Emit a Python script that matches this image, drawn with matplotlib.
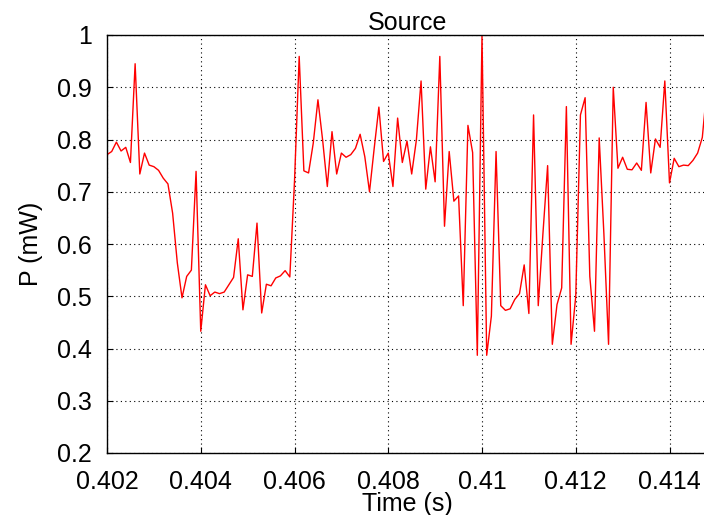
import matplotlib
matplotlib.use("Agg")
import matplotlib.pyplot as plt
import numpy as np

# sampled source power, one sample every 0.1 ms starting at 0.402 s
t_start = 0.402
t_step = 0.0001
power_mw = [
    0.771, 0.777, 0.795, 0.778, 0.785, 0.756, 0.945, 0.734, 0.774, 0.751,
    0.748, 0.741, 0.726, 0.715, 0.659, 0.564, 0.497, 0.538, 0.550, 0.739,
    0.433, 0.522, 0.501, 0.508, 0.505, 0.508, 0.522, 0.536, 0.610, 0.474,
    0.541, 0.538, 0.640, 0.468, 0.523, 0.520, 0.535, 0.539, 0.549, 0.537,
    0.720, 0.959, 0.740, 0.736, 0.793, 0.876, 0.799, 0.710, 0.815, 0.734,
    0.774, 0.766, 0.771, 0.783, 0.810, 0.767, 0.700, 0.783, 0.862, 0.758,
    0.774, 0.710, 0.841, 0.756, 0.797, 0.734, 0.799, 0.912, 0.705, 0.786,
    0.719, 0.959, 0.634, 0.777, 0.682, 0.692, 0.482, 0.827, 0.775, 0.387,
    1.000, 0.387, 0.462, 0.777, 0.482, 0.473, 0.476, 0.494, 0.505, 0.560,
    0.467, 0.847, 0.482, 0.620, 0.750, 0.408, 0.484, 0.516, 0.863, 0.408,
    0.500, 0.847, 0.880, 0.538, 0.433, 0.803, 0.620, 0.408, 0.900, 0.745,
    0.766, 0.743, 0.742, 0.755, 0.741, 0.871, 0.736, 0.801, 0.785, 0.912,
    0.717, 0.764, 0.748, 0.751, 0.750, 0.760, 0.774, 0.804, 0.900,
]
time_s = t_start + t_step * np.arange(len(power_mw))

x_ticks = [0.402, 0.404, 0.406, 0.408, 0.41, 0.412, 0.414]
x_tick_labels = ["0.402", "0.404", "0.406", "0.408", "0.41", "0.412", "0.414"]
y_ticks = [0.2, 0.3, 0.4, 0.5, 0.6, 0.7, 0.8, 0.9, 1.0]
y_tick_labels = ["0.2", "0.3", "0.4", "0.5", "0.6", "0.7", "0.8", "0.9", "1"]

plt.rcParams["font.family"] = ["Liberation Sans", "DejaVu Sans"]

fig = plt.figure(figsize=(7.04, 5.15), dpi=100)
ax = fig.add_axes([107 / 704, 62 / 515, 600 / 704, 418 / 515])

ax.plot(time_s, power_mw, color="red", linewidth=1.0)

ax.set_xlim(t_start, t_start + t_step * (len(power_mw) - 1))
ax.set_ylim(0.2, 1.0)
ax.set_xticks(x_ticks)
ax.set_xticklabels(x_tick_labels)
ax.set_yticks(y_ticks)
ax.set_yticklabels(y_tick_labels)
ax.tick_params(direction="in", length=4, width=0.8, labelsize=18)
ax.tick_params(axis="x", pad=12)
ax.tick_params(axis="y", pad=11)

ax.grid(True, color="black", linestyle=(0, (1, 3)), linewidth=0.8)
for side in ax.spines.values():
    side.set_linewidth(1.0)

ax.set_title("Source", fontsize=18, pad=3)
ax.set_xlabel("Time (s)", fontsize=18, labelpad=-1)
ax.set_ylabel("P (mW)", fontsize=18, labelpad=10)

fig.savefig("out.png", dpi=100)
